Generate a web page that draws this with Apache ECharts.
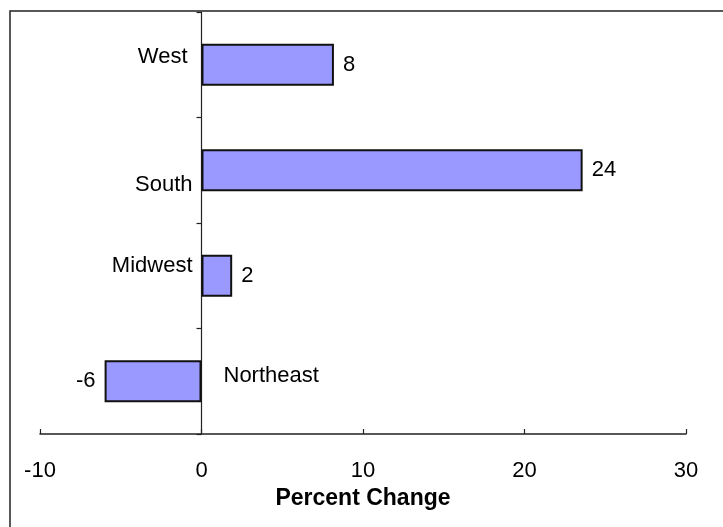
<!DOCTYPE html>
<html>
<head>
<meta charset="utf-8">
<script src="https://cdn.jsdelivr.net/npm/echarts@6/dist/echarts.min.js"></script>
<style>html,body{margin:0;padding:0;background:#fff}#c{width:723px;height:527px}</style>
</head>
<body>
<div id="c"></div>
<script>
const categories = ['West', 'South', 'Midwest', 'Northeast'];
const values = [8.2, 23.6, 1.9, -6.0];
const xTicks = [-10, 0, 10, 20, 30];
const axisTitle = 'Percent Change';

const FONT = '"Liberation Sans", Arial, sans-serif';
const FS = 22;
// label gaps/vertical offsets (styling only)
const catOffsets = [[-14, -8], [-9, 15], [-9, -10], [22, -5]];

const chart = echarts.init(document.getElementById('c'), null, {renderer: 'canvas'});
const option = {
  animation: false,
  backgroundColor: '#fff',
  graphic: [{
    type: 'rect', silent: true, z: 100,
    shape: {x: 10, y: 11, width: 800, height: 600},
    style: {fill: 'none', stroke: '#222', lineWidth: 1.5}
  }],
  grid: {left: 40, right: 37, top: 12, bottom: 93, containLabel: false},
  xAxis: {
    type: 'value', min: xTicks[0], max: xTicks[xTicks.length - 1], interval: 10,
    axisLine: {show: true, lineStyle: {color: '#222', width: 1.5}},
    axisTick: {show: true, inside: true, length: 5, lineStyle: {color: '#222', width: 1.2}},
    splitLine: {show: false},
    axisLabel: {margin: 26, fontSize: FS, color: '#000', fontFamily: FONT},
    name: axisTitle, nameLocation: 'middle', nameGap: 53,
    nameTextStyle: {fontSize: 23, fontWeight: 'bold', color: '#000', fontFamily: FONT}
  },
  yAxis: {
    type: 'category', data: categories, inverse: true,
    axisLine: {show: true, onZero: true, lineStyle: {color: '#222', width: 1.2}},
    axisTick: {show: true, length: 5, lineStyle: {color: '#222', width: 1.2}},
    axisLabel: {show: false},
    splitLine: {show: false}
  },
  series: [{
    type: 'bar',
    data: values.map(v => ({
      value: v,
      label: {position: v >= 0 ? 'right' : 'left'}
    })),
    barWidth: 42,
    itemStyle: {color: '#9999FF', borderColor: '#111', borderWidth: 2},
    label: {
      show: true, distance: 9, fontSize: FS, color: '#000', fontFamily: FONT,
      formatter: p => Math.round(p.value)
    }
  }, {
    type: 'scatter',
    symbolSize: 0,
    silent: true,
    itemStyle: {opacity: 1},
    data: categories.map((c, i) => ({
      value: [0, c],
      label: {
        show: true,
        position: values[i] >= 0 ? 'left' : 'right',
        offset: catOffsets[i],
        distance: 0,
        formatter: c,
        fontSize: FS, color: '#000', fontFamily: FONT
      }
    }))
  }]
};
chart.setOption(option);
</script>
</body>
</html>
